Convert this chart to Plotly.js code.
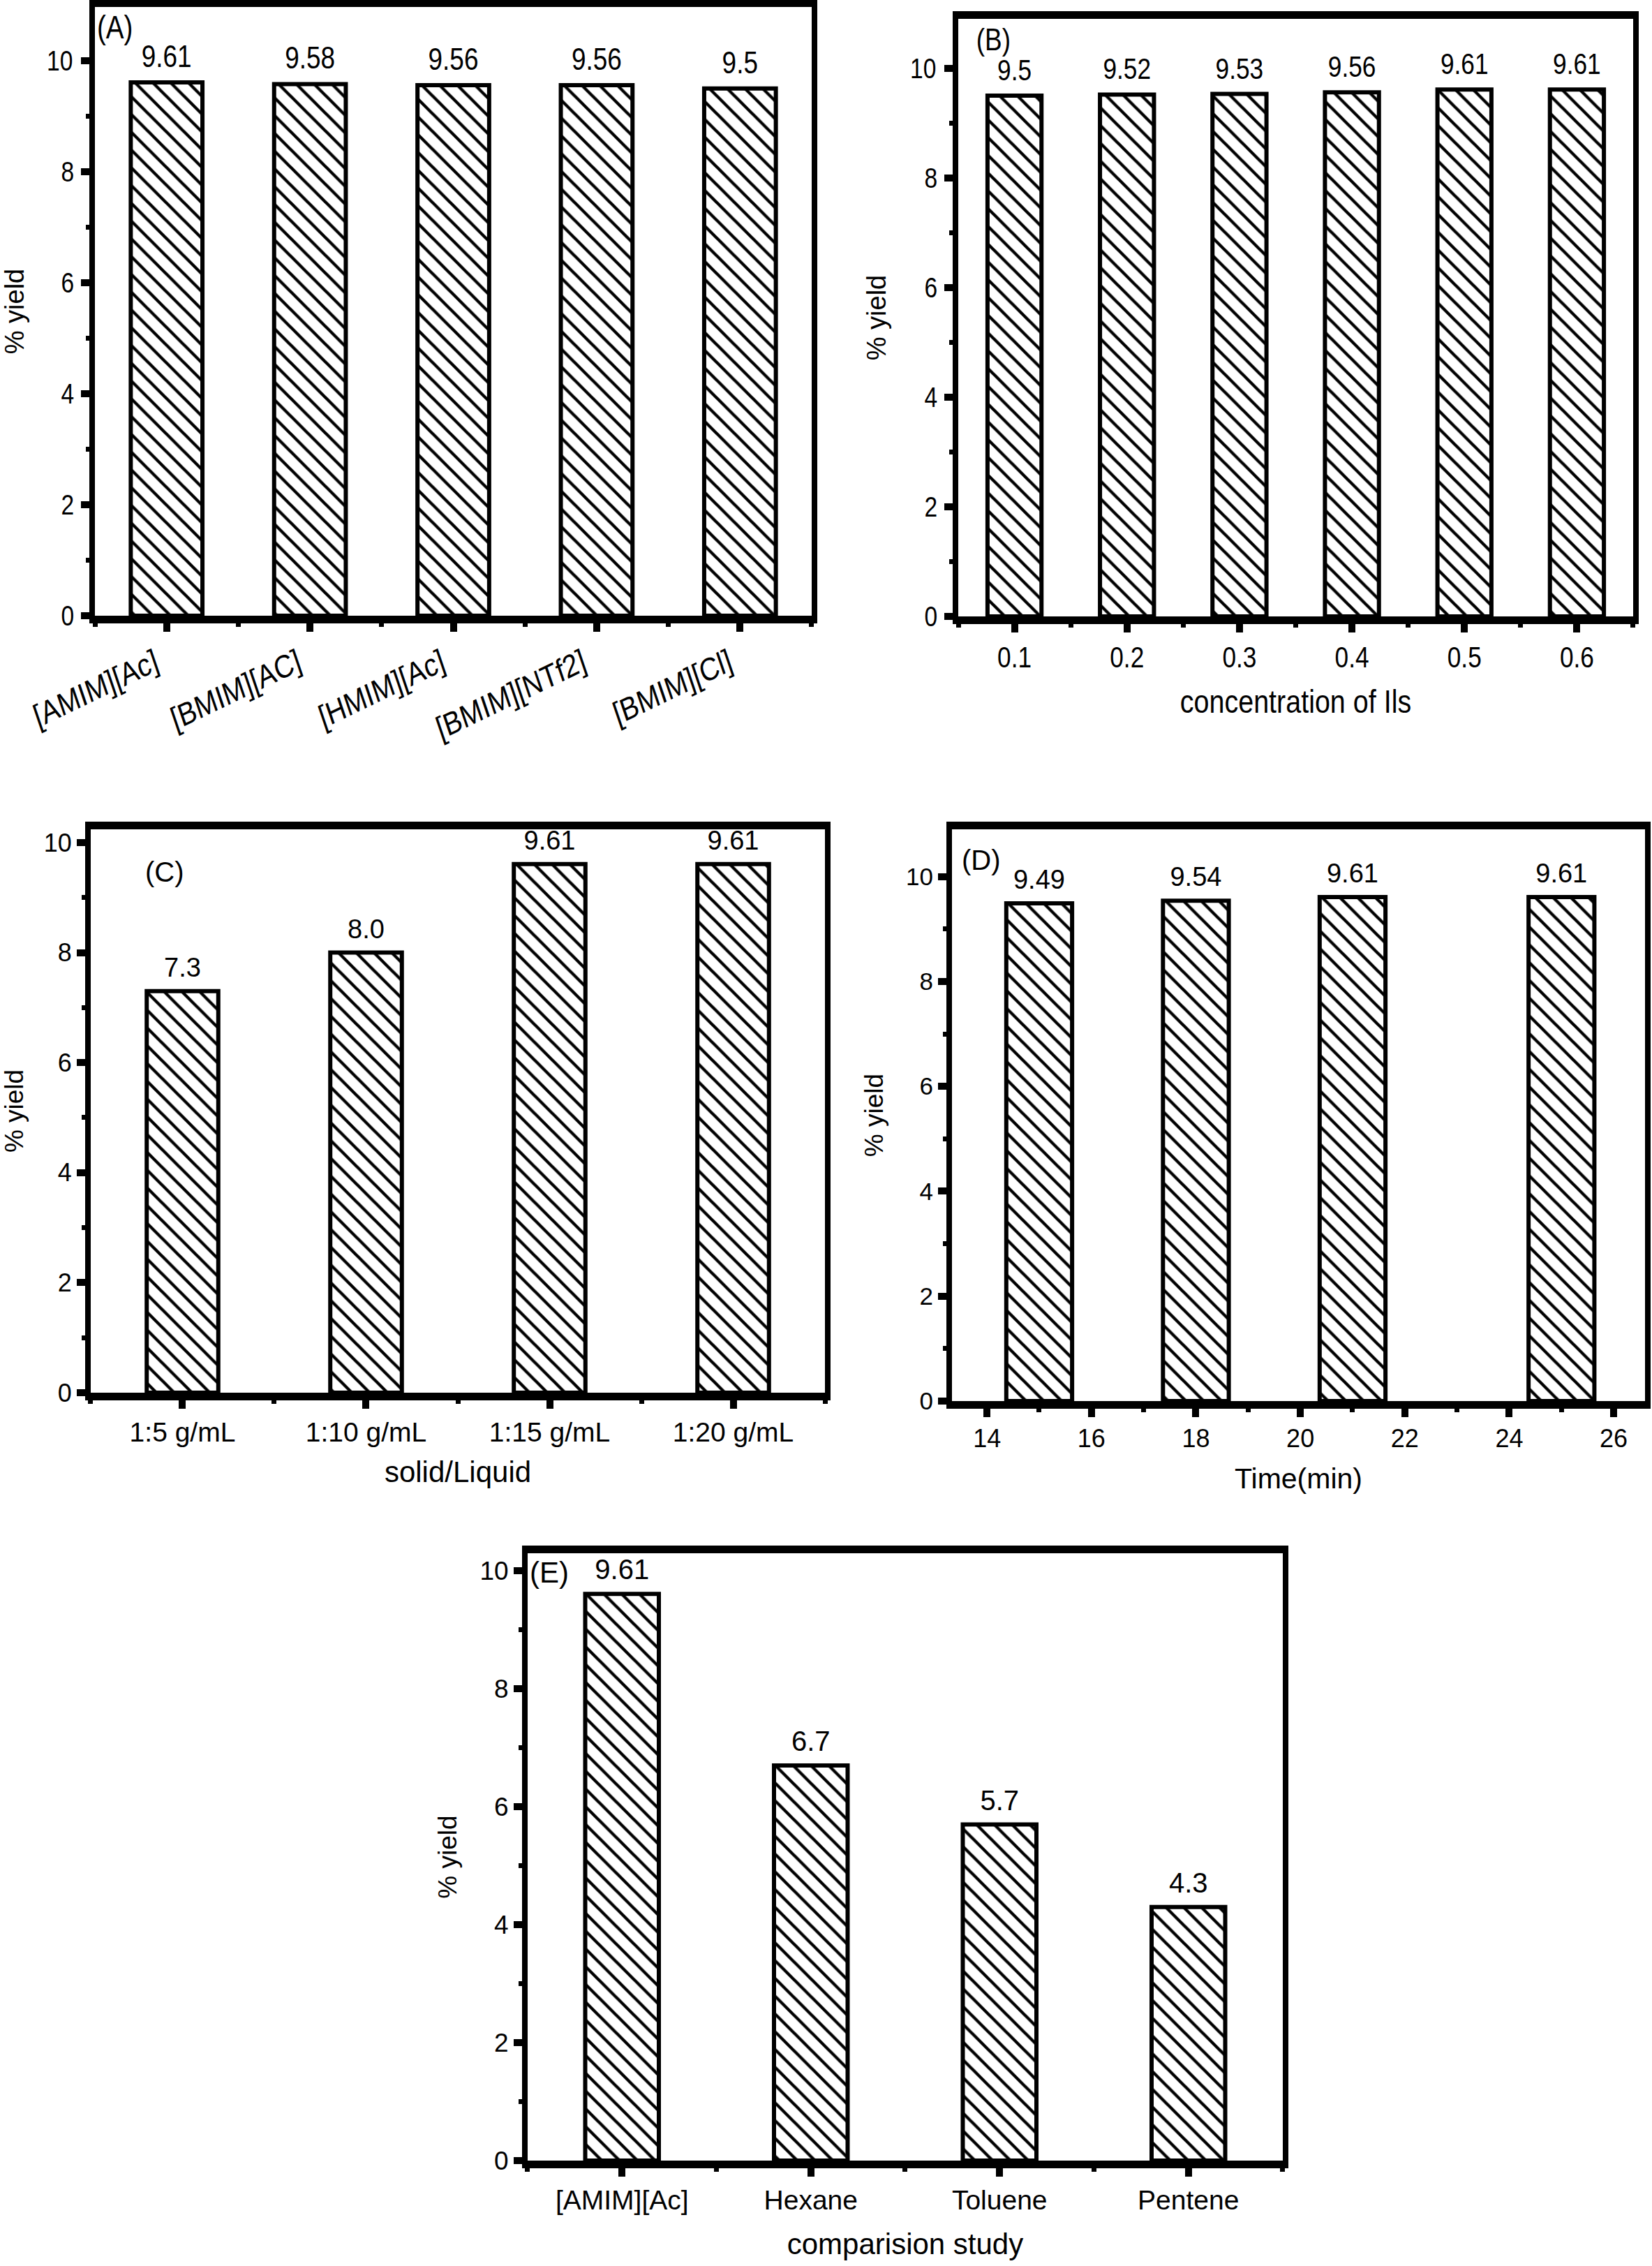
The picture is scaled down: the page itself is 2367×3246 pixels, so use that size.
<!DOCTYPE html>
<html>
<head>
<meta charset="utf-8">
<script src="https://cdn.plot.ly/plotly-3.0.1.min.js"></script>
<style>
  html, body { margin: 0; padding: 0; background: #ffffff; }
  #chart { width: 2367px; height: 3246px; }
</style>
</head>
<body>
<div id="chart"></div>
<script>
// ---------------- data ----------------
const ionicLiquids = ['[AMIM][Ac]', '[BMIM][AC]', '[HMIM][Ac]', '[BMIM][NTf2]', '[BMIM][Cl]'];
const yieldA = [9.61, 9.58, 9.56, 9.56, 9.5];
const labelA = ['9.61', '9.58', '9.56', '9.56', '9.5'];

const concentration = [0.1, 0.2, 0.3, 0.4, 0.5, 0.6];
const yieldB = [9.5, 9.52, 9.53, 9.56, 9.61, 9.61];
const labelB = ['9.5', '9.52', '9.53', '9.56', '9.61', '9.61'];

const solidLiquid = ['1:5 g/mL', '1:10 g/mL', '1:15 g/mL', '1:20 g/mL'];
const yieldC = [7.3, 8.0, 9.61, 9.61];
const labelC = ['7.3', '8.0', '9.61', '9.61'];

const timeMin = [15, 18, 21, 25];
const yieldD = [9.49, 9.54, 9.61, 9.61];
const labelD = ['9.49', '9.54', '9.61', '9.61'];

const solvents = ['[AMIM][Ac]', 'Hexane', 'Toluene', 'Pentene'];
const yieldE = [9.61, 6.7, 5.7, 4.3];
const labelE = ['9.61', '6.7', '5.7', '4.3'];

// ---------------- styling ----------------
const FONT = '"Liberation Sans", Arial, Helvetica, sans-serif';
const f = size => ({ family: FONT, size: size, color: 'black' });

const positions = arr => arr.map((_, i) => i + 1);

function barTrace(x, y, text, xa, ya, width, font) {
  return {
    type: 'bar', x: x, y: y, text: text, xaxis: xa, yaxis: ya, width: width,
    textposition: 'outside', cliponaxis: false, constraintext: 'none',
    textfont: font, outsidetextfont: font,
    marker: {
      color: 'white',
      line: { color: 'black', width: 6 },
      pattern: { shape: '\\', fgcolor: 'black', bgcolor: 'white', size: 18, solidity: 0.24 }
    },
    hoverinfo: 'skip', showlegend: false
  };
}

const minorX = (t0, dt) => ({ ticks: 'outside', ticklen: 5, tickwidth: 7, tickcolor: 'black', tick0: t0, dtick: dt });

function xAxis(extra, font) {
  return Object.assign({
    showline: true, linewidth: 11, linecolor: 'black', mirror: true,
    ticks: 'outside', ticklen: 12, tickwidth: 10, tickcolor: 'black',
    showgrid: false, zeroline: false, fixedrange: true,
    tickfont: font
  }, extra);
}
function yAxis(extra, font, titleFont, standoff) {
  return Object.assign({
    showline: true, linewidth: 8, linecolor: 'black', mirror: true,
    ticks: 'outside', ticklen: 12, tickwidth: 10, tickcolor: 'black',
    tick0: 0, dtick: 2,
    minor: { ticks: 'outside', ticklen: 5, tickwidth: 7, tickcolor: 'black', tick0: 0, dtick: 1 },
    showgrid: false, zeroline: false, fixedrange: true,
    tickfont: font,
    title: { text: '% yield', font: titleFont, standoff: standoff }
  }, extra);
}

const posA = positions(ionicLiquids);
const posC = positions(solidLiquid);
const posE = positions(solvents);

const data = [
  barTrace(posA, yieldA, labelA, 'x', 'y', 0.5, f(44)),
  barTrace(concentration, yieldB, labelB, 'x2', 'y2', 0.048, f(42)),
  barTrace(posC, yieldC, labelC, 'x3', 'y3', 0.39, f(38)),
  barTrace(timeMin, yieldD, labelD, 'x4', 'y4', 1.26, f(38)),
  barTrace(posE, yieldE, labelE, 'x5', 'y5', 0.39, f(40))
];

const layout = {
  width: 2367, height: 3246,
  margin: { l: 0, r: 0, t: 0, b: 0 },
  paper_bgcolor: 'white', plot_bgcolor: 'white',
  showlegend: false,
  font: { family: FONT, color: 'black' },

  xaxis: xAxis({
    domain: [0.05746, 0.49134], anchor: 'y', range: [0.5, 5.5],
    tickmode: 'array', tickvals: posA, ticktext: ionicLiquids, tickangle: -22,
    minor: minorX(0.5, 1)
  }, f(46)),
  yaxis: yAxis({ domain: [0.72828, 0.99692], anchor: 'x', range: [0, 10.97] }, f(40), f(38), 22),

  xaxis2: xAxis({
    domain: [0.58006, 0.98859], anchor: 'y2', range: [0.05, 0.65],
    tickmode: 'array', tickvals: concentration, ticktext: concentration.map(v => v.toFixed(1)),
    minor: minorX(0.05, 0.1),
    title: { text: 'concentration of Ils', font: f(47), standoff: 28 }
  }, f(42)),
  yaxis2: yAxis({ domain: [0.72797, 0.99168], anchor: 'x2', range: [0, 10.9] }, f(40), f(38), 22),

  xaxis3: xAxis({
    domain: [0.05492, 0.49937], anchor: 'y3', range: [0.5, 4.5],
    tickmode: 'array', tickvals: posC, ticktext: solidLiquid,
    minor: minorX(0.5, 1),
    title: { text: 'solid/Liquid', font: f(42), standoff: 26 }
  }, f(39)),
  yaxis3: yAxis({ domain: [0.38540, 0.63401], anchor: 'x3', range: [0, 10.24] }, f(36), f(37), 24),

  xaxis4: xAxis({
    domain: [0.57626, 0.99578], anchor: 'y4', range: [13.33, 26.6],
    tick0: 0, dtick: 2,
    minor: minorX(1, 2),
    title: { text: 'Time(min)', font: f(41), standoff: 28 }
  }, f(36)),
  yaxis4: yAxis({ domain: [0.38170, 0.63401], anchor: 'x4', range: [0, 10.9] }, f(35), f(37), 24),

  xaxis5: xAxis({
    domain: [0.31939, 0.77651], anchor: 'y5', range: [0.5, 4.5],
    tickmode: 'array', tickvals: posE, ticktext: solvents,
    minor: minorX(0.5, 1),
    title: { text: 'comparision study', font: f(42), standoff: 32 }
  }, f(39)),
  yaxis5: yAxis({ domain: [0.04652, 0.31454], anchor: 'x5', range: [0, 10.3] }, f(37), f(37), 24),

  annotations: [
    { text: '(A)', xref: 'x domain', yref: 'y domain', x: 0.028, y: 0.967, xanchor: 'center', yanchor: 'middle', showarrow: false, font: f(46) },
    { text: '(B)', xref: 'x2 domain', yref: 'y2 domain', x: 0.052, y: 0.966, xanchor: 'center', yanchor: 'middle', showarrow: false, font: f(44) },
    { text: '(C)', xref: 'x3 domain', yref: 'y3 domain', x: 0.101, y: 0.924, xanchor: 'center', yanchor: 'middle', showarrow: false, font: f(40) },
    { text: '(D)', xref: 'x4 domain', yref: 'y4 domain', x: 0.042, y: 0.946, xanchor: 'center', yanchor: 'middle', showarrow: false, font: f(40) },
    { text: '(E)', xref: 'x5 domain', yref: 'y5 domain', x: 0.029, y: 0.968, xanchor: 'center', yanchor: 'middle', showarrow: false, font: f(42) }
  ]
};

// Narrow lettering as in the original top-row panels (A, B),
// and a little more room between bar tops and their value labels.
function styleText(gd) {
  const ref = gd.querySelector('svg.main-svg');
  gd.querySelectorAll('svg text').forEach(t => {
    const r = t.getBoundingClientRect();
    if (!r.width) return;
    const cls = t.getAttribute('class') || '';
    const old = t.getAttribute('transform') || '';
    const vertical = /rotate\(-90/.test(old) || /(^|\s)y\d*title/.test(cls);
    const cx = r.left + r.width / 2;
    const cy = r.top + r.height / 2;
    const sx = (cy < 1100 && !vertical) ? 0.84 : 1;
    const dy = /bartext/.test(cls) ? -10 : 0;
    if (sx === 1 && dy === 0) return;
    const ctm = t.parentNode.getScreenCTM();
    if (!ctm) return;
    const pt = ref.createSVGPoint();
    pt.x = cx; pt.y = cy;
    const p = pt.matrixTransform(ctm.inverse());
    t.setAttribute('transform',
      'translate(' + p.x + ',' + dy + ') scale(' + sx + ',1) translate(' + (-p.x) + ',0) ' + old);
  });
}

Plotly.newPlot('chart', data, layout, { staticPlot: true, displayModeBar: false })
  .then(gd => styleText(gd));
</script>
</body>
</html>
